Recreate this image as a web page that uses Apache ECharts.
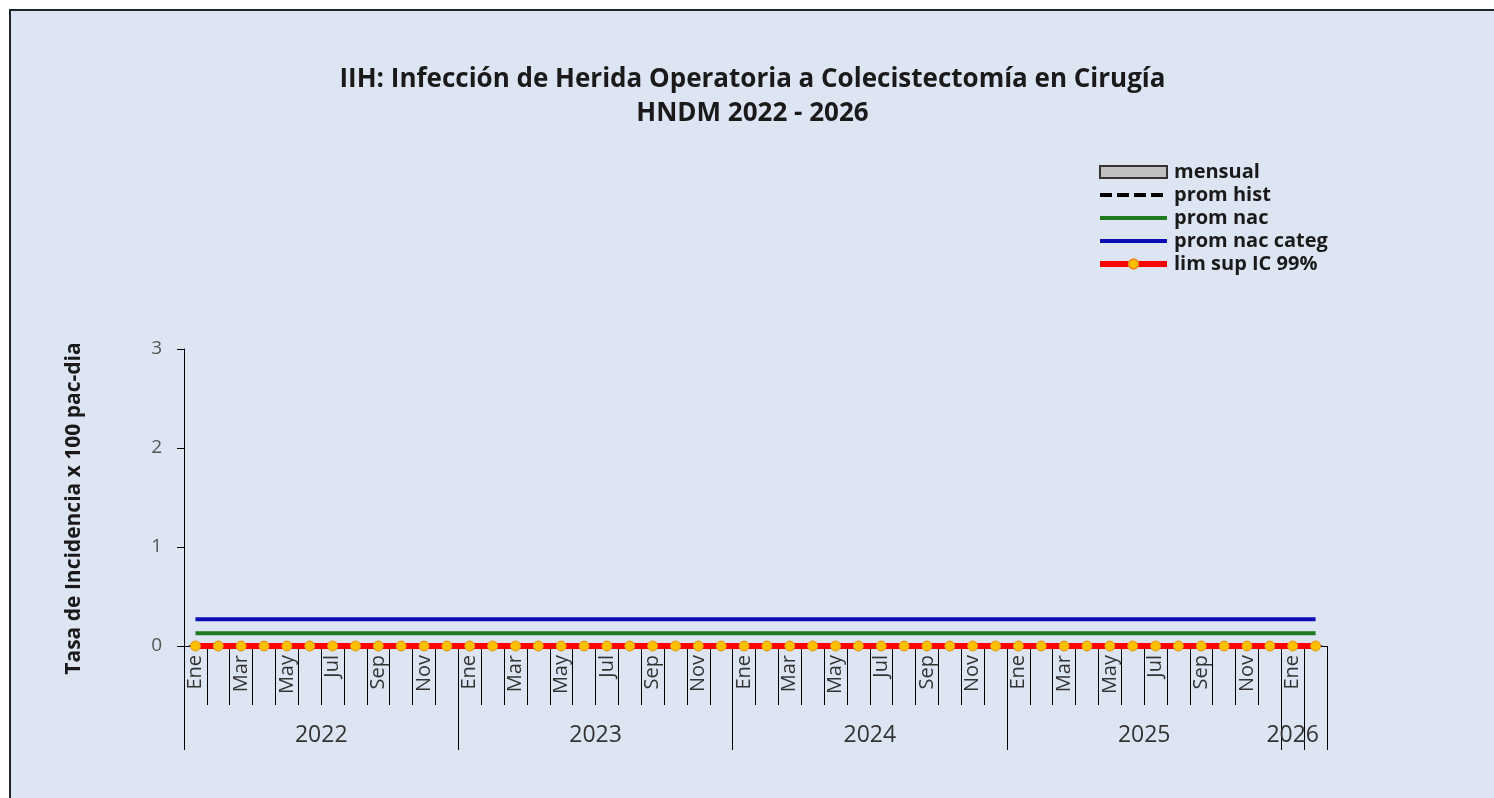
<!DOCTYPE html>
<html>
<head>
<meta charset="utf-8">
<script src="https://cdn.jsdelivr.net/npm/echarts@6/dist/echarts.min.js"></script>
<style>
  html, body { margin: 0; padding: 0; background: #ffffff; width: 1494px; height: 798px; overflow: hidden; }
  #frame { position: absolute; left: 9px; top: 9px; border-left: 2px solid #1d2430; border-top: 2px solid #1d2430; width: 1483px; height: 787px; }
  #chart { width: 1483px; height: 787px; }
</style>
</head>
<body>
<div id="frame"><div id="chart"></div></div>
<script>
// ---- data ----
const years = ['2022', '2023', '2024', '2025', '2026'];
const monthsPerYear = [12, 12, 12, 12, 2];
const monthNames = ['Ene', 'Feb', 'Mar', 'Abr', 'May', 'Jun', 'Jul', 'Ago', 'Sep', 'Oct', 'Nov', 'Dic'];
const yTicks = [0, 1, 2, 3];

const mensual = [
  0,0,0,0,0,0,0,0,0,0,0,0,
  0,0,0,0,0,0,0,0,0,0,0,0,
  0,0,0,0,0,0,0,0,0,0,0,0,
  0,0,0,0,0,0,0,0,0,0,0,0,
  0,0
];
const promHist = [
  0,0,0,0,0,0,0,0,0,0,0,0,
  0,0,0,0,0,0,0,0,0,0,0,0,
  0,0,0,0,0,0,0,0,0,0,0,0,
  0,0,0,0,0,0,0,0,0,0,0,0,
  0,0
];
const promNac = [
  0.13,0.13,0.13,0.13,0.13,0.13,0.13,0.13,0.13,0.13,0.13,0.13,
  0.13,0.13,0.13,0.13,0.13,0.13,0.13,0.13,0.13,0.13,0.13,0.13,
  0.13,0.13,0.13,0.13,0.13,0.13,0.13,0.13,0.13,0.13,0.13,0.13,
  0.13,0.13,0.13,0.13,0.13,0.13,0.13,0.13,0.13,0.13,0.13,0.13,
  0.13,0.13
];
const promNacCateg = [
  0.27,0.27,0.27,0.27,0.27,0.27,0.27,0.27,0.27,0.27,0.27,0.27,
  0.27,0.27,0.27,0.27,0.27,0.27,0.27,0.27,0.27,0.27,0.27,0.27,
  0.27,0.27,0.27,0.27,0.27,0.27,0.27,0.27,0.27,0.27,0.27,0.27,
  0.27,0.27,0.27,0.27,0.27,0.27,0.27,0.27,0.27,0.27,0.27,0.27,
  0.27,0.27
];
const limSup = [
  0,0,0,0,0,0,0,0,0,0,0,0,
  0,0,0,0,0,0,0,0,0,0,0,0,
  0,0,0,0,0,0,0,0,0,0,0,0,
  0,0,0,0,0,0,0,0,0,0,0,0,
  0,0
];

// ---- build categories ----
const categories = [];
const yearStartIdx = {};
const yearLabelIdx = {};
years.forEach(function (y, yi) {
  const start = categories.length;
  yearStartIdx[start] = true;
  const n = monthsPerYear[yi];
  yearLabelIdx[n >= 12 ? start + n / 2 - 1 : start] = { year: y, full: n >= 12 };
  for (let m = 0; m < n; m++) categories.push(monthNames[m] + ' ' + y);
});
// Excel also draws the partial-year end boundary long
const longTickIdx = Object.assign({}, yearStartIdx);
longTickIdx[categories.length - 1] = true;

const FONT = '"Open Sans", "Liberation Sans", sans-serif';
const NOSYM = 'rgba(0,0,0,0)';

const chart = echarts.init(document.getElementById('chart'), null, { renderer: 'canvas' });
chart.setOption({
  backgroundColor: '#dde5f3',
  animation: false,
  title: {
    text: 'IIH: Infección de Herida Operatoria a Colecistectomía en Cirugía\nHNDM 2022 - 2026',
    left: 'center',
    top: 52,
    padding: [0, 0, 0, 19],
    textStyle: { fontFamily: FONT, fontWeight: 'bold', fontSize: 26, color: '#1a1a1a', lineHeight: 34 }
  },
  legend: {
    orient: 'vertical',
    left: 1081,
    top: 146,
    itemWidth: 67,
    itemHeight: 12,
    itemGap: 3,
    lineStyle: { width: 'inherit' },
    textStyle: { fontFamily: FONT, fontWeight: 'bold', fontSize: 20, color: '#1a1a1a', lineHeight: 16, padding: [0, 0, 0, 2] },
    data: [
      { name: 'mensual', icon: 'rect' },
      { name: 'prom hist' },
      { name: 'prom nac' },
      { name: 'prom nac categ' },
      { name: 'lim sup IC 99%' }
    ]
  },
  grid: { left: 173, top: 338, width: 1143, height: 297, containLabel: false },
  xAxis: [
    {
      type: 'category',
      data: categories,
      position: 'bottom',
      boundaryGap: true,
      axisLine: { show: true, lineStyle: { color: '#000', width: 1 } },
      axisTick: { show: true, interval: 0, length: 59, lineStyle: { color: '#000', width: 1 } },
      axisLabel: {
        interval: 1, rotate: 90, margin: 9,
        fontFamily: FONT, fontSize: 20, color: '#333',
        formatter: function (v) { return v.split(' ')[0]; }
      },
      splitLine: { show: false }
    },
    {
      type: 'category',
      data: categories,
      position: 'bottom',
      boundaryGap: true,
      axisLine: { show: false },
      axisTick: {
        show: true, length: 104, lineStyle: { color: '#000', width: 1 },
        interval: function (i) { return !!longTickIdx[i]; }
      },
      axisLabel: {
        margin: 78,
        interval: function (i) { return !!yearLabelIdx[i]; },
        formatter: function (v, i) {
          const info = yearLabelIdx[i];
          if (!info) return '';
          return info.full ? '{s|' + info.year + '}' : '{c|' + info.year + '}';
        },
        rich: {
          s: { fontFamily: FONT, fontSize: 23, color: '#333', padding: [0, 0, 0, 23] },
          c: { fontFamily: FONT, fontSize: 23, color: '#333' }
        }
      },
      splitLine: { show: false }
    }
  ],
  yAxis: {
    type: 'value',
    min: 0, max: 3, interval: 1,
    name: 'Tasa de Incidencia x 100 pac-dia',
    nameLocation: 'middle',
    nameGap: 99,
    nameTextStyle: { fontFamily: FONT, fontWeight: 'bold', fontSize: 21, color: '#1a1a1a', padding: [0, 22, 0, 0] },
    axisLine: { show: true, lineStyle: { color: '#000', width: 1 } },
    axisTick: { show: true, length: 7, lineStyle: { color: '#000' } },
    axisLabel: {
      margin: 22, fontFamily: FONT, fontSize: 19, color: '#555',
      customValues: yTicks
    },
    splitLine: { show: false }
  },
  series: [
    {
      name: 'mensual', type: 'bar', data: mensual, barWidth: '60%',
      itemStyle: { color: '#c0c0c0', borderColor: '#333', borderWidth: 1 }, z: 1
    },
    {
      name: 'prom hist', type: 'line', data: promHist, symbol: 'none',
      lineStyle: { color: '#000', width: 4, type: [12, 5] }, itemStyle: { color: NOSYM }, z: 2
    },
    {
      name: 'prom nac', type: 'line', data: promNac, symbol: 'none',
      lineStyle: { color: '#1e7a1e', width: 4 }, itemStyle: { color: NOSYM }, z: 3
    },
    {
      name: 'prom nac categ', type: 'line', data: promNacCateg, symbol: 'none',
      lineStyle: { color: '#0c0cb4', width: 4 }, itemStyle: { color: NOSYM }, z: 4
    },
    {
      name: 'lim sup IC 99%', type: 'line', data: limSup, symbol: 'circle', symbolSize: 10,
      lineStyle: { color: '#ff0000', width: 6 },
      itemStyle: { color: '#ffc000', borderColor: '#e8901a', borderWidth: 1 }, z: 5
    }
  ]
});
</script>
</body>
</html>
